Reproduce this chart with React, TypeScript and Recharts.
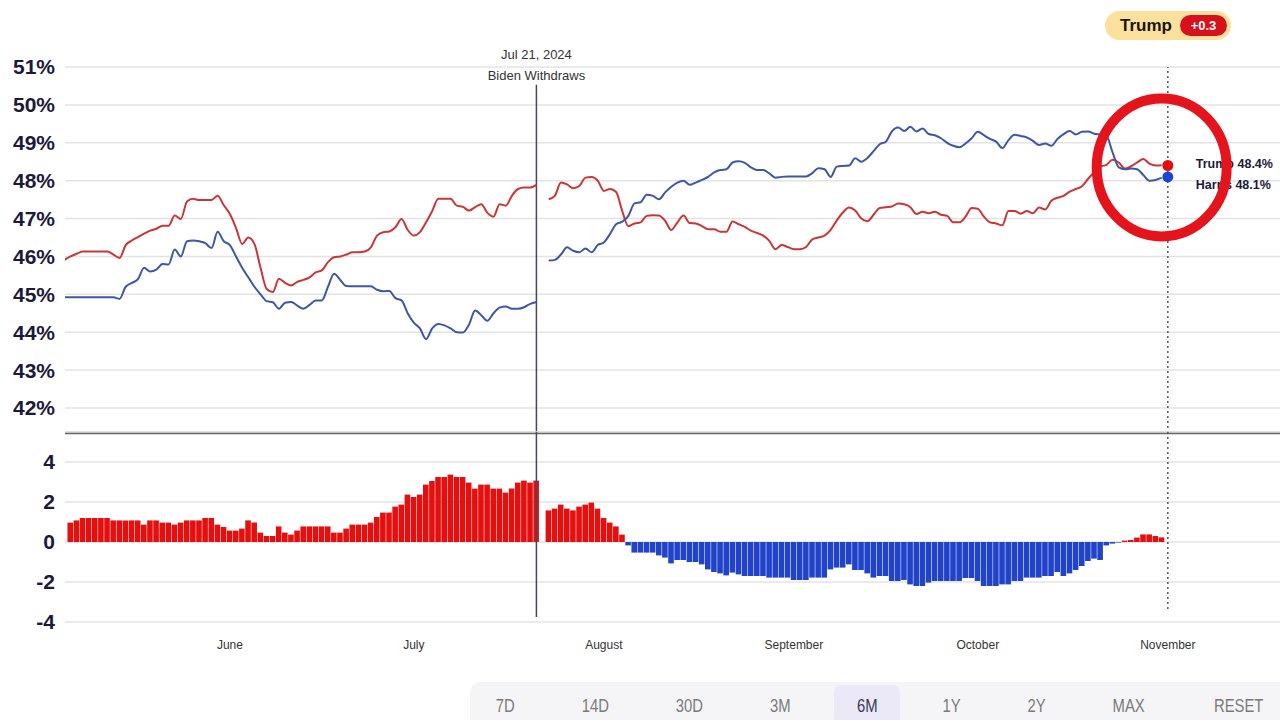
import React from "react";
import {
  LineChart,
  Line,
  BarChart,
  Bar,
  Cell,
  XAxis,
  YAxis,
  CartesianGrid,
  ReferenceLine,
  ReferenceDot,
} from "recharts";

// Day offsets are counted from June 1, 2024. First entry = FIRST_DAY.
const FIRST_DAY = -27;

// Trump polling average (%), one value per day, null = gap
const trumpSeries: (number | null)[] = [
  45.91, 46.0, 46.07, 46.13, 46.13, 46.13, 46.13, 46.13, 46.05, 45.96,
  46.3, 46.42, 46.51, 46.6, 46.68, 46.73, 46.81, 46.81, 47.08, 46.99,
  47.45, 47.52, 47.49, 47.49, 47.49, 47.6, 47.35, 47.12, 46.75, 46.33,
  46.5, 46.33, 45.7, 45.14, 45.06, 45.41, 45.3, 45.23, 45.33, 45.38,
  45.45, 45.58, 45.63, 45.85, 45.98, 46.0, 46.05, 46.11, 46.11, 46.13,
  46.24, 46.55, 46.64, 46.66, 46.77, 46.99, 46.7, 46.55, 46.64, 46.9,
  47.2, 47.52, 47.52, 47.52, 47.34, 47.31, 47.21, 47.3, 47.38, 47.15,
  47.05, 47.38, 47.34, 47.6, 47.78, 47.82, 47.82, 47.89,
  null,
  47.51, 47.6, 47.95, 47.9, 47.8, 47.86, 48.08, 48.1, 48.0, 47.73,
  47.78, 47.7, 47.2, 46.8, 46.87, 46.9, 47.07, 47.09, 47.08, 46.94,
  46.7, 46.9, 47.08, 46.88, 46.87, 46.8, 46.72, 46.72, 46.65, 46.65,
  46.92, 46.85, 46.78, 46.68, 46.62, 46.55, 46.41, 46.19, 46.3, 46.25,
  46.19, 46.19, 46.25, 46.45, 46.5, 46.55, 46.7, 46.95, 47.16, 47.29,
  47.21,
  47.0, 46.93, 47.1, 47.28, 47.3, 47.32, 47.4, 47.38, 47.3, 47.12,
  47.18, 47.14, 47.18, 47.1, 47.07, 46.9, 46.9, 47.05, 47.28, 47.26,
  47.05, 46.9, 46.87, 46.82, 47.2, 47.2, 47.13, 47.2, 47.14, 47.29,
  47.24, 47.47, 47.55, 47.6, 47.71, 47.78, 47.85, 48.05, 48.22, 48.37,
  48.42, 48.55, 48.48, 48.32, 48.38, 48.48, 48.57, 48.45, 48.4, 48.41,
];

// Democratic candidate (Biden until Jul 21, then Harris), %
const demSeries: (number | null)[] = [
  44.92, 44.92, 44.92, 44.92, 44.92, 44.92, 44.92, 44.92, 44.92, 44.88,
  45.2, 45.3, 45.4, 45.7, 45.6, 45.65, 45.8, 45.79, 46.18, 46.0,
  46.4, 46.42, 46.4, 46.35, 46.22, 46.65, 46.4, 46.3, 46.0, 45.7,
  45.45, 45.2, 45.0, 44.82, 44.79, 44.62, 44.78, 44.8, 44.7, 44.62,
  44.72, 44.84, 44.84, 45.2, 45.54, 45.38, 45.22, 45.21, 45.21, 45.21,
  45.21, 45.12, 45.08, 45.09, 44.9, 44.84, 44.5, 44.25, 44.1, 43.82,
  44.1, 44.22, 44.18, 44.1, 44.0, 43.99, 44.2, 44.57, 44.45, 44.3,
  44.5, 44.65, 44.68, 44.62, 44.62, 44.66, 44.75, 44.8,
  null,
  45.89, 45.91, 46.05, 46.24, 46.15, 46.11, 46.21, 46.11, 46.3, 46.37,
  46.59, 46.85, 46.92, 47.07, 47.4, 47.43, 47.63, 47.6, 47.51, 47.69,
  47.84, 47.95, 48.0, 47.89, 47.95, 48.02, 48.1, 48.22, 48.28, 48.3,
  48.48, 48.51, 48.47, 48.35, 48.28, 48.28, 48.19, 48.08, 48.1, 48.11,
  48.11, 48.11, 48.11, 48.2, 48.33, 48.3, 48.1, 48.37, 48.39, 48.4,
  48.59,
  48.5, 48.6, 48.78, 48.96, 49.03, 49.3, 49.4, 49.31, 49.42, 49.3,
  49.38, 49.23, 49.2, 49.12, 49.0, 48.92, 48.88, 48.98, 49.12, 49.29,
  49.2, 49.1, 49.03, 48.86, 49.07, 49.21, 49.18, 49.14, 49.05, 48.94,
  48.98, 48.92, 49.1, 49.23, 49.31, 49.22, 49.29, 49.3, 49.24, 49.22,
  49.18, 48.74, 48.35, 48.3, 48.32, 48.3, 48.15, 48.0, 48.02, 48.08,
];

// Daily spread (Trump minus Democrat), points
const spreadSeries: (number | null)[] = [
  null,
  0.97, 1.08, 1.2, 1.2, 1.2, 1.2, 1.2, 1.08, 1.08, 1.08,
  1.08, 1.08, 0.87, 1.08, 1.08, 0.97, 0.97, 0.87, 0.97, 1.08,
  1.08, 1.08, 1.2, 1.2, 0.87, 0.75, 0.57, 0.57, 0.67, 1.08,
  0.97, 0.47, 0.3, 0.3, 0.78, 0.47, 0.37, 0.57, 0.78, 0.78,
  0.78, 0.78, 0.78, 0.47, 0.47, 0.67, 0.87, 0.87, 0.87, 0.97,
  1.25, 1.47, 1.47, 1.77, 1.87, 2.37, 2.25, 2.37, 2.87, 3.05,
  3.25, 3.25, 3.37, 3.25, 3.25, 2.97, 2.67, 2.87, 2.87, 2.67,
  2.67, 2.47, 2.67, 2.97, 3.07, 2.97, 3.07,
  null,
  1.58, 1.67, 1.87, 1.67, 1.58, 1.77, 1.87, 1.97, 1.67, 1.2,
  0.97, 0.78, 0.37,
  -0.17, -0.53, -0.53, -0.53, -0.53, -0.67, -0.78, -1.07, -0.9, -0.9,
  -1.0, -1.0, -1.12, -1.37, -1.5, -1.57, -1.67, -1.53, -1.62, -1.7,
  -1.7, -1.7, -1.7, -1.78, -1.78, -1.78, -1.78, -1.9, -1.9, -1.9,
  -1.78, -1.78, -1.78, -1.37, -1.28, -1.28, -1.12, -1.4, -1.4, -1.57,
  -1.78, -1.7, -1.7, -1.95, -1.95, -1.9, -2.12, -2.2, -2.2, -2.03,
  -1.95, -1.95, -1.95, -1.95, -1.95, -1.8, -1.8, -1.95, -2.2, -2.2,
  -2.2, -2.12, -2.12, -1.95, -1.95, -1.78, -1.78, -1.78, -1.7, -1.7,
  -1.5, -1.7, -1.57, -1.4, -1.2, -0.95, -0.83, -0.9, -0.17, -0.08,
  -0.03, 0.07, 0.1, 0.22, 0.38, 0.38, 0.3, 0.23,
];

const monthTicks = [0, 30, 61, 92, 122, 153];
const monthLabels = ["June", "July", "August", "September", "October", "November"];
const pctTicks = [42, 43, 44, 45, 46, 47, 48, 49, 50, 51];
const spreadTicks = [-4, -2, 0, 2, 4];

const withdrawDay = 50;
const withdrawDate = "Jul 21, 2024";
const withdrawText = "Biden Withdraws";

const latestDay = 153;
const latestTrump = 48.4;
const latestHarris = 48.1;
const leaderName = "Trump";

const rangeButtons = ["7D", "14D", "30D", "3M", "6M", "1Y", "2Y", "MAX", "RESET"];
const activeRange = "6M";

// ---- layout / style constants ----
const X_DOMAIN: [number, number] = [-26.9, 171.3];
const TOP_DOMAIN: [number, number] = [41.34, 51];
const BOTTOM_DOMAIN: [number, number] = [-4, 5.5];
const RED_LINE = "#cc3535";
const BLUE_LINE = "#3d57a6";
const RED_BAR = "#e3100f";
const BLUE_BAR = "#2143c9";
const FONT = '"Liberation Sans", Arial, Helvetica, sans-serif';
const buttonCenters = [35, 125, 219, 310, 397, 482, 567, 659, 769];

const rows = trumpSeries.map((t, i) => ({
  day: FIRST_DAY + i,
  trump: t,
  dem: demSeries[i],
  spread: spreadSeries[i],
}));

const axisTick = { fontSize: 21, fontWeight: 700, fill: "#1c1a3a", fontFamily: FONT };

const WithdrawMark = (p: any) => (
  <g>
    <text x={p.cx} y={p.cy - 13} textAnchor="middle" dominantBaseline="central" fontSize={13} fill="#333" fontFamily={FONT}>
      {withdrawDate}
    </text>
    <text x={p.cx} y={p.cy + 8} textAnchor="middle" dominantBaseline="central" fontSize={13} fill="#333" fontFamily={FONT}>
      {withdrawText}
    </text>
  </g>
);

const makeLatest = (color: string, label: string, dy: number) => (p: any) => (
  <g>
    <circle cx={p.cx} cy={p.cy} r={5.5} fill={color} />
    <text x={p.cx + 28} y={p.cy + dy} dominantBaseline="central" fontSize={12.5} fontWeight={700} fill="#1c1a3a" fontFamily={FONT}>
      {label}
    </text>
  </g>
);

const Ring = (p: any) => (
  <ellipse cx={p.cx} cy={p.cy} rx={65} ry={69} fill="none" stroke="#e5141c" strokeWidth={10} />
);

export default function App() {
  const diff = (latestTrump - latestHarris).toFixed(1);
  return (
    <div
      style={{
        position: "absolute",
        left: 0,
        top: 0,
        width: 1280,
        height: 720,
        overflow: "hidden",
        background: "#fff",
        fontFamily: FONT,
      }}
    >
      {/* Leader badge */}
      <div
        style={{
          position: "absolute",
          left: 1105,
          top: 11,
          width: 126,
          height: 29,
          borderRadius: 15,
          background: "#fbe19b",
          display: "flex",
          alignItems: "center",
        }}
      >
        <span style={{ marginLeft: 15, fontSize: 17, fontWeight: 700, color: "#1a1414" }}>{leaderName}</span>
        <span
          style={{
            position: "absolute",
            left: 75,
            top: 4,
            width: 47,
            height: 21,
            borderRadius: 11,
            background: "#d8101e",
            color: "#fff",
            fontSize: 13,
            fontWeight: 700,
            display: "flex",
            alignItems: "center",
            justifyContent: "center",
          }}
        >
          +{diff}
        </span>
      </div>

      {/* Top: polling average lines */}
      <div style={{ position: "absolute", left: 0, top: 0 }}>
        <LineChart width={1280} height={440} data={rows} margin={{ top: 67, right: 0, bottom: 7, left: 0 }}>
          <CartesianGrid vertical={false} stroke="#e3e3e3" strokeWidth={1.5} />
          <XAxis type="number" dataKey="day" domain={X_DOMAIN} allowDataOverflow hide />
          <YAxis
            type="number"
            domain={TOP_DOMAIN}
            ticks={pctTicks}
            allowDataOverflow
            width={65}
            tickSize={0}
            tickMargin={10}
            axisLine={false}
            tickLine={false}
            tickFormatter={(v: number) => `${v}%`}
            tick={axisTick}
          />
          <ReferenceLine y={TOP_DOMAIN[0]} stroke="#666" strokeWidth={2.5} />
          <ReferenceLine
            segment={[
              { x: withdrawDay, y: 50.53 },
              { x: withdrawDay, y: TOP_DOMAIN[0] },
            ]}
            stroke="#46465e"
            strokeWidth={1.5}
          />
          <ReferenceLine x={latestDay} stroke="#555" strokeWidth={1.5} strokeDasharray="2 3" />
          <Line
            type="monotone"
            dataKey="trump"
            stroke={RED_LINE}
            strokeWidth={2}
            dot={false}
            connectNulls={false}
            isAnimationActive={false}
          />
          <Line
            type="monotone"
            dataKey="dem"
            stroke={BLUE_LINE}
            strokeWidth={2}
            dot={false}
            connectNulls={false}
            isAnimationActive={false}
          />
          <ReferenceDot x={withdrawDay} y={51} ifOverflow="visible" shape={WithdrawMark} />
          <ReferenceDot
            x={latestDay}
            y={latestTrump}
            ifOverflow="visible"
            shape={makeLatest("#e30d0d", `Trump ${latestTrump}%`, -2)}
          />
          <ReferenceDot
            x={latestDay}
            y={latestHarris}
            ifOverflow="visible"
            shape={makeLatest("#1f45d0", `Harris ${latestHarris}%`, 8)}
          />
          <ReferenceDot x={152} y={48.35} ifOverflow="visible" shape={Ring} />
        </LineChart>
      </div>

      {/* Bottom: daily spread bars */}
      <div style={{ position: "absolute", left: 0, top: 430 }}>
        <BarChart width={1280} height={232} data={rows} margin={{ top: 2, right: 0, bottom: 0, left: 0 }}>
          <CartesianGrid vertical={false} stroke="#e3e3e3" strokeWidth={1.5} />
          <XAxis
            type="number"
            dataKey="day"
            domain={X_DOMAIN}
            allowDataOverflow
            ticks={monthTicks}
            interval={0}
            height={40}
            axisLine={false}
            tickLine={false}
            tickSize={0}
            tickMargin={18}
            tickFormatter={(v: number) => monthLabels[monthTicks.indexOf(v)] ?? ""}
            tick={{ fontSize: 12, fill: "#333", fontFamily: FONT }}
          />
          <YAxis
            type="number"
            domain={BOTTOM_DOMAIN}
            ticks={spreadTicks}
            allowDataOverflow
            width={65}
            tickSize={0}
            tickMargin={10}
            axisLine={false}
            tickLine={false}
            tick={axisTick}
          />
          <Bar dataKey="spread" barSize={5.6} isAnimationActive={false}>
            {rows.map((r, i) => (
              <Cell key={i} fill={r.spread !== null && r.spread < 0 ? BLUE_BAR : RED_BAR} />
            ))}
          </Bar>
          <ReferenceLine
            segment={[
              { x: withdrawDay, y: BOTTOM_DOMAIN[1] },
              { x: withdrawDay, y: -3.75 },
            ]}
            stroke="#46465e"
            strokeWidth={1.5}
          />
          <ReferenceLine
            segment={[
              { x: latestDay, y: BOTTOM_DOMAIN[1] },
              { x: latestDay, y: -3.5 },
            ]}
            stroke="#555"
            strokeWidth={1.5}
            strokeDasharray="2 3"
          />
        </BarChart>
      </div>

      {/* Range buttons */}
      <div
        style={{
          position: "absolute",
          left: 470,
          top: 682,
          width: 810,
          height: 50,
          background: "#f5f5f7",
          borderRadius: "10px 0 0 0",
        }}
      >
        {rangeButtons.map((b, i) => {
          const active = b === activeRange;
          return (
            <div
              key={b}
              style={{
                position: "absolute",
                left: buttonCenters[i] - 33,
                top: 3,
                width: 66,
                height: 40,
                borderRadius: 7,
                background: active ? "#ebe9f8" : "transparent",
                display: "flex",
                justifyContent: "center",
                paddingTop: 10,
                boxSizing: "border-box",
              }}
            >
              <span
                style={{
                  display: "inline-block",
                  transform: "scaleX(0.78)",
                  fontFamily: FONT,
                  fontSize: 19,
                  color: active ? "#3a3857" : "#7a7a7a",
                  whiteSpace: "nowrap",
                }}
              >
                {b}
              </span>
            </div>
          );
        })}
      </div>
    </div>
  );
}
